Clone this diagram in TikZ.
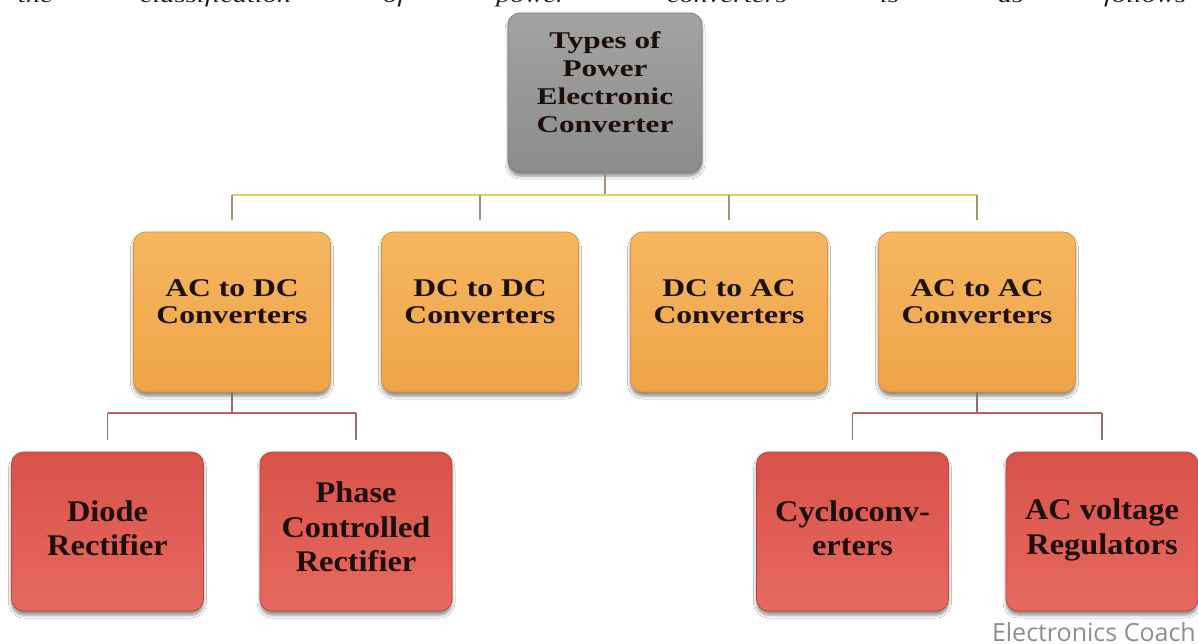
\documentclass[tikz,border=0pt]{standalone}
\usepackage{fontspec}
\newfontfamily\topfont[FakeStretch=1.3]{Liberation Serif}
\newfontfamily\midfont[FakeStretch=1.24]{Liberation Serif}
\newfontfamily\lowfont[FakeStretch=1.08]{Liberation Serif}
\newfontfamily\parafont[FakeStretch=1.35]{Liberation Serif}
\newfontfamily\wmfont{Open Sans}
\usetikzlibrary{shadows.blur}
\definecolor{grayT}{HTML}{A3A3A3}
\definecolor{grayB}{HTML}{8C8C8C}
\definecolor{grayE}{HTML}{7C7C7C}
\definecolor{oraT}{HTML}{F5B660}
\definecolor{oraB}{HTML}{EEA449}
\definecolor{oraE}{HTML}{D99440}
\definecolor{redT}{HTML}{D8524A}
\definecolor{redB}{HTML}{E6695F}
\definecolor{redE}{HTML}{C0463F}
\definecolor{txt}{HTML}{1C0E08}
\definecolor{goldline}{HTML}{E8CC66}
\definecolor{goldvert}{HTML}{A2927A}
\definecolor{redline}{HTML}{C25C5A}
\definecolor{redvert}{HTML}{8E7070}
\definecolor{wm}{HTML}{8E8E8E}
\definecolor{para}{HTML}{1A1A1A}
\begin{document}
\begin{tikzpicture}[x=1pt,y=-1pt,
  boxbase/.style={rounded corners=12pt, line width=0.8pt,
    blur shadow={shadow xshift=0pt, shadow yshift=-4pt, shadow blur radius=3pt, shadow opacity=45}},
  topbox/.style={boxbase, draw=grayE, top color=grayT, bottom color=grayB, minimum width=194pt, minimum height=159pt},
  midbox/.style={boxbase, draw=oraE, top color=oraT, bottom color=oraB, minimum width=197pt, minimum height=160pt},
  lowbox/.style={boxbase, draw=redE, top color=redT, bottom color=redB, minimum width=192pt, minimum height=159pt},
  toptext/.style={inner sep=0pt, align=center, text=txt, font=\topfont\bfseries\fontsize{24}{28}\selectfont},
  midtext/.style={inner sep=0pt, align=center, text=txt, font=\midfont\bfseries\fontsize{25.5}{27}\selectfont},
  lowtext/.style={inner sep=0pt, align=center, text=txt, font=\lowfont\bfseries\fontsize{30}{34.5}\selectfont},
  goldh/.style={draw=goldline, line width=2.2pt},
  goldv/.style={draw=goldvert, line width=1.8pt},
  redh/.style={draw=redline, line width=2pt},
  redv/.style={draw=redvert, line width=1.8pt},
  paraword/.style={inner sep=0pt, anchor=base west, text=para, font=\parafont\itshape\fontsize{21}{24}\selectfont},
]
\useasboundingbox (0,0) rectangle (1198,644);
\fill[white] (0,0) rectangle (1198,644);

% clipped paragraph line at the top
\begin{scope}
\clip (0,0) rectangle (1198,12);
\node[paraword] (w1) at (18,2.5) {the};
\node[paraword] (w2) at (140,2.5) {classification};
\node[paraword] (w3) at (383,2.5) {of};
\node[paraword] (w4) at (496,2.5) {power};
\node[paraword] (w5) at (667,2.5) {converters};
\node[paraword] (w6) at (880,2.5) {is};
\node[paraword] (w7) at (998,2.5) {as};
\node[paraword] (w8) at (1104,2.5) {follows};
\end{scope}

\coordinate (j1) at (605,195);
\coordinate (k1) at (232,413);
\coordinate (k2) at (977,413);

% boxes
\node[topbox] (top) at (605,92.5) {};
\node[toptext] (topt) at (605,82) {Types of\\Power\\Electronic\\Converter};

\node[midbox] (acdc) at (232,312) {};
\node[midbox] (dcdc) at (480,312) {};
\node[midbox] (dcac) at (729,312) {};
\node[midbox] (acac) at (977,312) {};
\node[midtext] (acdct) at (232,302) {AC to DC\\Converters};
\node[midtext] (dcdct) at (480,302) {DC to DC\\Converters};
\node[midtext] (dcact) at (729,302) {DC to AC\\Converters};
\node[midtext] (acact) at (977,302) {AC to AC\\Converters};

\node[lowbox] (diode) at (107.5,531.5) {};
\node[lowbox] (phase) at (356,531.5) {};
\node[lowbox] (cyclo) at (852.5,531.5) {};
\node[lowbox] (acvr) at (1102,531.5) {};
\node[lowtext] (diodet) at (107.5,528) {Diode\\Rectifier};
\node[lowtext] (phaset) at (356,527) {Phase\\Controlled\\Rectifier};
\node[lowtext] (cyclot) at (852.5,528) {Cycloconv-\\erters};
\node[lowtext] (acvrt) at (1102,530) {AC voltage\\Regulators};

% level 1 connectors
\draw[goldv] (top.south) -- (j1);
\draw[goldh] (acdc.north |- j1) -- (acac.north |- j1);
\draw[goldv] (acdc.north |- j1) -- ++(0,25);
\draw[goldv] (dcdc.north |- j1) -- ++(0,25);
\draw[goldv] (dcac.north |- j1) -- ++(0,25);
\draw[goldv] (acac.north |- j1) -- ++(0,25);

% level 2 connectors
\draw[redv] (acdc.south) -- (k1);
\draw[redh] (diode.north |- k1) -- (phase.north |- k1);
\draw[redv] (diode.north |- k1) -- ++(0,27);
\draw[redv] (phase.north |- k1) -- ++(0,27);

\draw[redv] (acac.south) -- (k2);
\draw[redh] (cyclo.north |- k2) -- (acvr.north |- k2);
\draw[redv] (cyclo.north |- k2) -- ++(0,27);
\draw[redv] (acvr.north |- k2) -- ++(0,27);

% watermark
\node[inner sep=0pt, anchor=base east, text=wm, font=\wmfont\fontsize{25}{28}\selectfont] (wmark) at (1196,641) {Electronics Coach};
\end{tikzpicture}
\end{document}
